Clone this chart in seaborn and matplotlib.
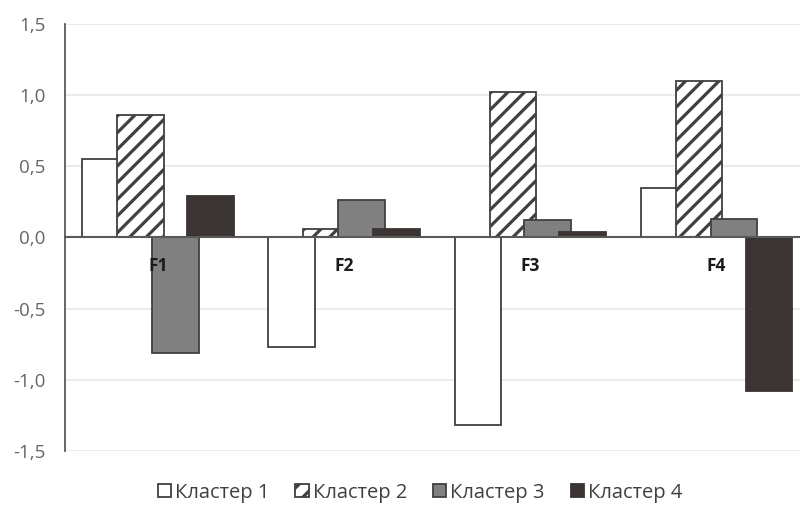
import pandas as pd
import matplotlib
matplotlib.use("Agg")
import matplotlib.pyplot as plt
from matplotlib.ticker import FuncFormatter
from matplotlib.transforms import offset_copy
import seaborn as sns

# данные
factors = ["F1", "F2", "F3", "F4"]
clusters = ["Кластер 1", "Кластер 2", "Кластер 3", "Кластер 4"]
k1 = [0.55, -0.77, -1.32, 0.35]
k2 = [0.86, 0.06, 1.02, 1.10]
k3 = [-0.81, 0.26, 0.12, 0.13]
k4 = [0.29, 0.06, 0.04, -1.08]

df = pd.DataFrame({
    "factor": factors * 4,
    "cluster": [c for c in clusters for _ in factors],
    "value": k1 + k2 + k3 + k4,
})

sns.set_style("white")
plt.rcParams["font.family"] = ["Open Sans", "DejaVu Sans"]
plt.rcParams["hatch.linewidth"] = 2.3

fills = {"Кластер 1": "#ffffff", "Кластер 2": "#ffffff",
         "Кластер 3": "#808080", "Кластер 4": "#3a3432"}

fig = plt.figure(figsize=(8, 5.08), dpi=100)
ax = fig.add_axes([0.081, 0.112, 0.931, 0.841])

sns.barplot(data=df, x="factor", y="value", hue="cluster", palette=fills,
            width=0.75, saturation=1, edgecolor="#404040", linewidth=1.3, ax=ax)

# перекрытие столбцов как в Excel
for i, cont in enumerate(ax.containers):
    for bar in cont:
        cx = bar.get_x() + bar.get_width() / 2
        bar.set_width(0.25)
        bar.set_x(cx - 0.125)
        if i == 1:
            bar.set_hatch("//")
        if i == 3:
            bar.set_edgecolor("#3a3432")

ax.set_ylim(-1.5, 1.5)
ax.set_xlim(-0.5, 3.5)
ax.set_yticks([-1.5, -1.0, -0.5, 0.0, 0.5, 1.0, 1.5])
ax.yaxis.set_major_formatter(FuncFormatter(lambda v, _: f"{v:.1f}".replace(".", ",")))
ax.grid(axis="y", color="#e8e8e8", linewidth=1.2)
ax.set_axisbelow(True)

for s in ["top", "right"]:
    ax.spines[s].set_visible(False)
ax.spines["left"].set_color("#595959")
ax.spines["left"].set_linewidth(1.3)
ax.spines["bottom"].set_position(("data", 0))
ax.spines["bottom"].set_color("#595959")
ax.spines["bottom"].set_linewidth(1.5)
ax.spines["bottom"].set_zorder(3)

ax.tick_params(axis="y", length=0, pad=14, labelsize=13.5, labelcolor="#666666")
ax.tick_params(axis="x", length=0, labelbottom=False)
ax.set_xlabel("")
ax.set_ylabel("")

# подписи категорий поверх столбцов
trans = offset_copy(ax.transData, fig=fig, x=0, y=-29, units="dots")
for i, f in enumerate(factors):
    ax.text(i, 0, f, transform=trans, ha="center", va="center",
            fontsize=12.5, fontweight="bold", color="#1a1a1a", zorder=10)

ax.get_legend().remove()
handles = [cont.patches[0] for cont in ax.containers]
fig.legend(handles, clusters, loc="center", bbox_to_anchor=(0.525, 0.03), ncol=4,
           frameon=False, fontsize=14.5, handlelength=0.65, handleheight=0.65,
           handletextpad=0.2, columnspacing=1.3, labelcolor="#404040")

fig.savefig("out.png", dpi=100)
